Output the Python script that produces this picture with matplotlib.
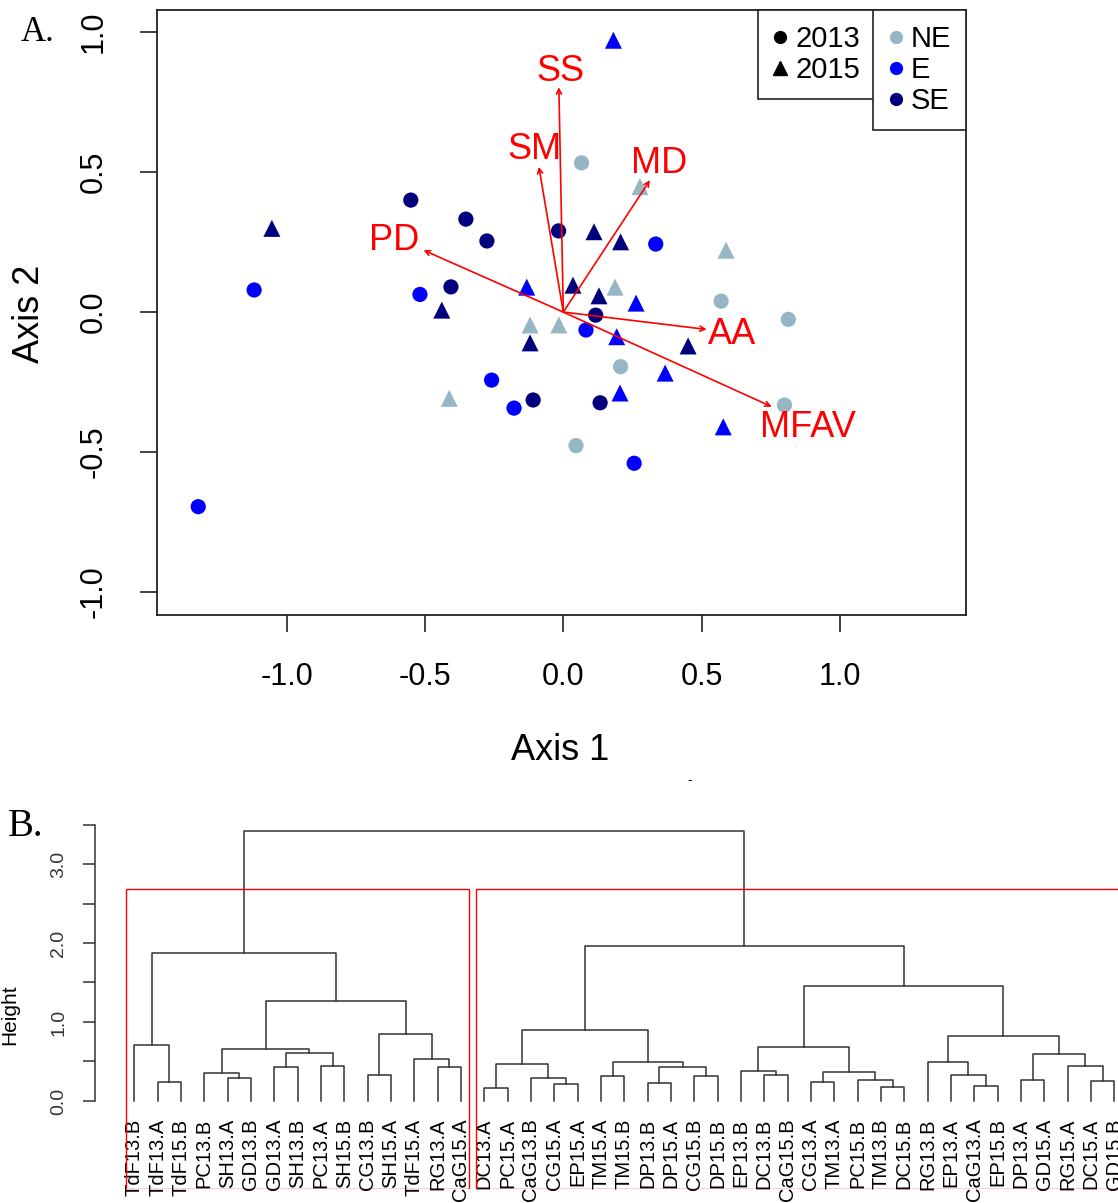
import matplotlib
matplotlib.use("Agg")
import matplotlib.pyplot as plt
from matplotlib.lines import Line2D
from matplotlib.patches import Rectangle

plt.rcParams['font.family'] = ['Liberation Sans', 'DejaVu Sans']

# ---- panel A: ordination scores ----
# 2013 samples (circles)
c13_NE_x = [0.066, 0.570, 0.813, 0.207, 0.799, 0.046]
c13_NE_y = [0.533, 0.039, -0.026, -0.195, -0.332, -0.477]
c13_E_x = [0.334, -1.117, -0.518, 0.082, -0.259, -0.178, 0.256, -1.319]
c13_E_y = [0.243, 0.079, 0.063, -0.064, -0.243, -0.343, -0.540, -0.695]
c13_SE_x = [-0.551, -0.352, -0.276, -0.017, -0.406, 0.117, -0.109, 0.133]
c13_SE_y = [0.400, 0.332, 0.254, 0.290, 0.090, -0.011, -0.314, -0.324]
# 2015 samples (triangles)
t15_NE_x = [0.277, 0.588, 0.187, -0.120, -0.016, -0.412]
t15_NE_y = [0.448, 0.221, 0.089, -0.046, -0.046, -0.308]
t15_E_x = [0.181, -0.132, 0.263, 0.193, 0.368, 0.205, 0.578]
t15_E_y = [0.971, 0.089, 0.032, -0.088, -0.218, -0.289, -0.410]
t15_SE_x = [-1.053, 0.111, 0.207, 0.035, 0.129, -0.439, -0.120, 0.451]
t15_SE_y = [0.299, 0.287, 0.251, 0.096, 0.058, 0.007, -0.110, -0.121]

# environmental vectors
vec_names = ['SS', 'SM', 'MD', 'PD', 'AA', 'MFAV']
vec_x = [-0.016, -0.088, 0.313, -0.505, 0.518, 0.753]
vec_y = [0.803, 0.519, 0.471, 0.221, -0.062, -0.338]
vec_lab_x = [-0.012, -0.103, 0.348, -0.612, 0.608, 0.884]
vec_lab_y = [0.858, 0.579, 0.530, 0.254, -0.079, -0.413]

col = {'NE': '#96b6c4', 'E': '#0000ff', 'SE': '#00007f'}

# ---- panel B: dendrogram ----
leaves = ['TdF13.B', 'TdF13.A', 'TdF15.B', 'PC13.B', 'SH13.A', 'GD13.B', 'GD13.A',
          'SH13.B', 'PC13.A', 'SH15.B', 'CG13.B', 'SH15.A', 'TdF15.A', 'RG13.A',
          'CaG15.A', 'DC13.A', 'PC15.A', 'CaG13.B', 'CG15.A', 'EP15.A', 'TM15.A',
          'TM15.B', 'DP13.B', 'DP15.A', 'CG15.B', 'DP15.B', 'EP13.B', 'DC13.B',
          'CaG15.B', 'CG13.A', 'TM13.A', 'PC15.B', 'TM13.B', 'DC15.B', 'RG13.B',
          'EP13.A', 'CaG13.A', 'EP15.B', 'DP13.A', 'GD15.A', 'RG15.A', 'DC15.A',
          'GD15.B']
# (left, right, height): int = leaf index, 'mN' = earlier merge
merges = [
    (1, 2, 0.245), (0, 'm0', 0.705), (4, 5, 0.295), (3, 'm2', 0.36),
    (6, 7, 0.426), (8, 9, 0.443), ('m4', 'm5', 0.603), ('m3', 'm6', 0.658),
    (10, 11, 0.329), (13, 14, 0.426), (12, 'm9', 0.527), ('m8', 'm10', 0.852),
    ('m7', 'm11', 1.262), ('m1', 'm12', 1.869),
    (15, 16, 0.165), (18, 19, 0.211), (17, 'm15', 0.295), ('m14', 'm16', 0.473),
    (20, 21, 0.312), (22, 23, 0.228), (24, 25, 0.312), ('m19', 'm20', 0.426),
    ('m18', 'm21', 0.489), ('m17', 'm22', 0.903),
    (27, 28, 0.325), (26, 'm24', 0.38), (29, 30, 0.245), (32, 33, 0.177),
    (31, 'm27', 0.262), ('m26', 'm28', 0.371), ('m25', 'm29', 0.688),
    (36, 37, 0.195), (35, 'm31', 0.325), (34, 'm32', 0.489), (38, 39, 0.262),
    (41, 42, 0.247), (40, 'm35', 0.44), ('m34', 'm36', 0.59), ('m33', 'm37', 0.82),
    ('m30', 'm38', 1.46), ('m23', 'm39', 1.958), ('m13', 'm40', 3.414),
]
cluster_sizes = [15, 28]

W, H = 1118, 1203
fig = plt.figure(figsize=(W / 100, H / 100), dpi=100)

# ===== panel A =====
ax = fig.add_axes([157 / W, 1 - 615 / H, (966 - 157) / W, (615 - 10) / H])
groups = [
    (c13_NE_x, c13_NE_y, 'NE', 'o'), (c13_E_x, c13_E_y, 'E', 'o'),
    (c13_SE_x, c13_SE_y, 'SE', 'o'), (t15_NE_x, t15_NE_y, 'NE', '^'),
    (t15_E_x, t15_E_y, 'E', '^'), (t15_SE_x, t15_SE_y, 'SE', '^'),
]
for gx, gy, reg, mk in groups:
    ax.scatter(gx, gy, marker=mk, s=120 if mk == 'o' else 150,
               color=col[reg], edgecolors='none', zorder=2)

for name, vx, vy, lx, ly in zip(vec_names, vec_x, vec_y, vec_lab_x, vec_lab_y):
    ax.annotate('', xy=(vx, vy), xytext=(0, 0),
                arrowprops=dict(arrowstyle='->', color='red', lw=1.2,
                                mutation_scale=9, shrinkA=0, shrinkB=0),
                zorder=3)
    ax.text(lx, ly, name, color='red', fontsize=26, ha='center', va='center', zorder=4)

ax.set_xlim(-1.468, 1.455)
ax.set_ylim(-1.082, 1.079)
ax.set_xticks([-1.0, -0.5, 0.0, 0.5, 1.0])
ax.set_yticks([-1.0, -0.5, 0.0, 0.5, 1.0])
ax.set_xticklabels(['-1.0', '-0.5', '0.0', '0.5', '1.0'])
ax.set_yticklabels(['-1.0', '-0.5', '0.0', '0.5', '1.0'])
ax.tick_params(axis='both', length=12.5, width=1.2, labelsize=22, color='#222222')
ax.tick_params(axis='x', pad=21)
ax.tick_params(axis='y', pad=22, labelrotation=90)
for lab in ax.get_yticklabels():
    lab.set_va('center')
for sp in ax.spines.values():
    sp.set_linewidth(1.3)
    sp.set_color('#222222')
ax.set_xlabel('Axis 1', fontsize=26, va='center')
ax.xaxis.set_label_coords((560 - 157) / 809, (615 - 750) / 605)
ax.set_ylabel('Axis 2', fontsize=26, va='center', ha='center')
ax.yaxis.set_label_coords((29 - 157) / 809, (615 - 314) / 605)

h_year = [Line2D([], [], marker='o', color='black', ls='', ms=8.5),
          Line2D([], [], marker='^', color='black', ls='', ms=9.5)]
h_reg = [Line2D([], [], marker='o', color=col[r], ls='', ms=8.5) for r in ['NE', 'E', 'SE']]
leg_kw = dict(loc='upper right', bbox_transform=ax.transAxes, fancybox=False,
              edgecolor='#222222', borderaxespad=0, fontsize=21, handlelength=0.5,
              handletextpad=0.25, labelspacing=0.1, borderpad=0.52, framealpha=1)
leg1 = ax.legend(h_year, ['2013', '2015'], bbox_to_anchor=((875 - 157) / 809, 1.0), **leg_kw)
leg1.get_frame().set_linewidth(1.2)
ax.add_artist(leg1)
leg2 = ax.legend(h_reg, ['NE', 'E', 'SE'], bbox_to_anchor=(1.0, 1.0), **leg_kw)
leg2.get_frame().set_linewidth(1.2)

fig.text(21 / W, 1 - 41 / H, 'A.', family=['Liberation Serif'], fontsize=25, va='baseline')
fig.text(690 / W, 1 - 780 / H, '-', fontsize=10, ha='center', va='center')

# ===== panel B =====
bx = fig.add_axes([95 / W, 1 - 1189 / H, (W - 95) / W, (1189 - 820) / H])
xpos = {i: i + 1 for i in range(len(leaves))}
hgt = {i: 0.0 for i in range(len(leaves))}
for k, (a, b, h) in enumerate(merges):
    key = 'm%d' % k
    xa, xb = xpos[a], xpos[b]
    bx.plot([xa, xa, xb, xb], [hgt[a], h, h, hgt[b]], color='#333333', lw=1.1)
    xpos[key] = (xa + xb) / 2
    hgt[key] = h

for i, name in enumerate(leaves):
    bx.text(i + 1, -0.22, name, rotation=90, ha='center', va='top', fontsize=14.5)

ylo, yhi = -1.114, 3.557
cut_h = (merges[-1][2] + merges[-2][2]) / 2
edge = 0
for n in cluster_sizes:
    bx.add_patch(Rectangle((edge + 0.66, ylo), n - 0.33, cut_h - ylo,
                           fill=False, edgecolor='red', lw=1.0, zorder=3))
    edge += n

bx.set_xlim(-0.685, 43.16)
bx.set_ylim(ylo, yhi)
bx.set_xticks([])
bx.set_yticks([0, 0.5, 1.0, 1.5, 2.0, 2.5, 3.0, 3.5])
bx.set_yticklabels(['0.0', '', '1.0', '', '2.0', '', '3.0', ''])
bx.tick_params(axis='y', length=9, width=1.1, labelsize=14, pad=11,
               labelrotation=90, labelcolor='#333333', color='#333333')
for lab in bx.get_yticklabels():
    lab.set_va('center')
for s in ['top', 'right', 'bottom']:
    bx.spines[s].set_visible(False)
bx.spines['left'].set_bounds(0, 3.5)
bx.spines['left'].set_linewidth(1.1)
bx.spines['left'].set_color('#333333')
bx.patch.set_alpha(0)

fig.text(10 / W, 1 - 1015 / H, 'Height', rotation=90, ha='center', va='center', fontsize=15)
fig.text(8 / W, 1 - 836 / H, 'B.', family=['Liberation Serif'], fontsize=28, va='baseline')

fig.savefig('out.png', dpi=100)
